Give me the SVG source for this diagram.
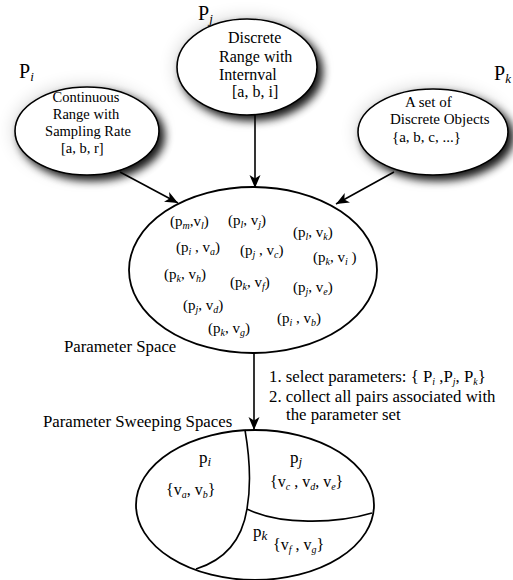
<svg xmlns="http://www.w3.org/2000/svg" width="513" height="580" viewBox="0 0 513 580">
<defs>
  <filter id="shadow" x="-30%" y="-30%" width="160%" height="170%">
    <feGaussianBlur in="SourceAlpha" stdDeviation="4.5" result="b"/>
    <feOffset in="b" dx="5" dy="5" result="o"/>
    <feComponentTransfer in="o" result="s"><feFuncA type="linear" slope="0.9"/></feComponentTransfer>
    <feGaussianBlur in="SourceAlpha" stdDeviation="9" result="g"/>
    <feComponentTransfer in="g" result="g2"><feFuncA type="linear" slope="0.18"/></feComponentTransfer>
    <feMerge><feMergeNode in="g2"/><feMergeNode in="s"/><feMergeNode in="SourceGraphic"/></feMerge>
  </filter>
  <marker id="arr" markerUnits="userSpaceOnUse" markerWidth="14" markerHeight="12" refX="13" refY="5.5" orient="auto">
    <path d="M0,0 L13,5.5 L0,11 L3.5,5.5 z" fill="#000"/>
  </marker>
</defs>
<style>
  text { font-family: "Liberation Serif", "Times New Roman", serif; fill: #000; }
  .node { fill: #fff; stroke: #000; stroke-width: 1.6; }
  .plain { fill: #fff; stroke: #000; stroke-width: 1.8; }
  .big { font-size: 20px; }
  .sub { font-size: 10px; font-style: italic; }
  .bsub { font-size: 13px; font-style: italic; }
  .pair { font-size: 15px; }
  .lbl { font-size: 16.8px; }
  .edge { stroke: #000; stroke-width: 1.6; fill: none; marker-end: url(#arr); }
  .div { stroke: #000; stroke-width: 1.6; fill: none; }
</style>
<rect width="513" height="580" fill="#fff"/>

<g id="connectors">
  <line class="edge" x1="120" y1="172" x2="178" y2="203"/>
  <line class="edge" x1="255" y1="115" x2="255" y2="188"/>
  <line class="edge" x1="394" y1="172" x2="336" y2="204"/>
  <line class="edge" x1="254" y1="353" x2="254" y2="430"/>
</g>

<g id="node-pi">
  <ellipse class="node" filter="url(#shadow)" cx="87" cy="131" rx="72" ry="44"/>
  <text class="big" x="19" y="78">P<tspan class="bsub" dy="3">i</tspan></text>
  <text font-size="14.5" text-anchor="middle" x="86" y="102">Continuous</text>
  <text font-size="14.5" text-anchor="middle" x="86" y="119">Range with</text>
  <text font-size="14.5" text-anchor="middle" x="88" y="136">Sampling Rate</text>
  <text font-size="14.5" x="61" y="153">[a, b, r]</text>
</g>

<g id="node-pj">
  <ellipse class="node" filter="url(#shadow)" cx="247" cy="67" rx="70" ry="48"/>
  <text class="big" x="198" y="20">P<tspan class="bsub" dy="3">j</tspan></text>
  <text font-size="16" x="228" y="43">Discrete</text>
  <text font-size="16" x="219" y="62">Range with</text>
  <text font-size="16" x="219" y="80">Internval</text>
  <text font-size="16" x="232" y="97">[a, b, i]</text>
</g>

<g id="node-pk">
  <ellipse class="node" filter="url(#shadow)" cx="433" cy="132" rx="75" ry="43"/>
  <text class="big" x="494" y="80">P<tspan class="bsub" dy="3">k</tspan></text>
  <text font-size="15" x="405" y="107">A set of</text>
  <text font-size="15" x="390" y="124">Discrete Objects</text>
  <text font-size="15" x="392" y="142">{a, b, c, ...}</text>
</g>

<g id="parameter-space">
  <ellipse class="plain" cx="253" cy="270" rx="124" ry="83"/>
  <text class="pair" x="170" y="226">(p<tspan class="sub" dy="3">m</tspan><tspan dy="-3">,v</tspan><tspan class="sub" dy="3">l</tspan><tspan dy="-3">)</tspan></text>
  <text class="pair" x="228" y="225">(p<tspan class="sub" dy="3">l</tspan><tspan dy="-3">, v</tspan><tspan class="sub" dy="3">j</tspan><tspan dy="-3">)</tspan></text>
  <text class="pair" x="293" y="237">(p<tspan class="sub" dy="3">l</tspan><tspan dy="-3">, v</tspan><tspan class="sub" dy="3">k</tspan><tspan dy="-3">)</tspan></text>
  <text class="pair" x="176" y="252">(p<tspan class="sub" dy="3">i</tspan><tspan dy="-3"> , v</tspan><tspan class="sub" dy="3">a</tspan><tspan dy="-3">)</tspan></text>
  <text class="pair" x="240" y="255">(p<tspan class="sub" dy="3">j</tspan><tspan dy="-3"> , v</tspan><tspan class="sub" dy="3">c</tspan><tspan dy="-3">)</tspan></text>
  <text class="pair" x="313" y="262">(p<tspan class="sub" dy="3">k</tspan><tspan dy="-3">, v</tspan><tspan class="sub" dy="3">i</tspan><tspan dy="-3"> )</tspan></text>
  <text class="pair" x="164" y="279">(p<tspan class="sub" dy="3">k</tspan><tspan dy="-3">, v</tspan><tspan class="sub" dy="3">h</tspan><tspan dy="-3">)</tspan></text>
  <text class="pair" x="230" y="287">(p<tspan class="sub" dy="3">k</tspan><tspan dy="-3">, v</tspan><tspan class="sub" dy="3">f</tspan><tspan dy="-3">)</tspan></text>
  <text class="pair" x="293" y="292">(p<tspan class="sub" dy="3">j</tspan><tspan dy="-3">, v</tspan><tspan class="sub" dy="3">e</tspan><tspan dy="-3">)</tspan></text>
  <text class="pair" x="183" y="310">(p<tspan class="sub" dy="3">j</tspan><tspan dy="-3">, v</tspan><tspan class="sub" dy="3">d</tspan><tspan dy="-3">)</tspan></text>
  <text class="pair" x="277" y="323">(p<tspan class="sub" dy="3">i</tspan><tspan dy="-3"> , v</tspan><tspan class="sub" dy="3">b</tspan><tspan dy="-3">)</tspan></text>
  <text class="pair" x="208" y="333">(p<tspan class="sub" dy="3">k</tspan><tspan dy="-3">, v</tspan><tspan class="sub" dy="3">g</tspan><tspan dy="-3">)</tspan></text>
  <text class="lbl" x="64" y="352">Parameter Space</text>
</g>

<g id="step-label">
  <text class="lbl" x="269" y="382">1. select parameters: { P<tspan class="sub" dy="3">i</tspan><tspan dy="-3"> ,P</tspan><tspan class="sub" dy="3">j</tspan><tspan dy="-3">, P</tspan><tspan class="sub" dy="3">k</tspan><tspan dy="-3">}</tspan></text>
  <text class="lbl" x="269" y="402">2. collect all pairs associated with</text>
  <text class="lbl" x="286" y="420">the parameter set</text>
</g>

<g id="sweeping-spaces">
  <text class="lbl" x="43" y="427">Parameter Sweeping Spaces</text>
  <ellipse class="plain" cx="255" cy="505" rx="119" ry="75"/>
  <path class="div" d="M245,430 C251,465 250,492 247,509 C242,540 225,560 196,569"/>
  <path class="div" d="M247,509 C280,525 335,524 372,513"/>
  <text font-size="17" x="199" y="463">p<tspan class="bsub" dy="3">i</tspan></text>
  <text font-size="16" x="166" y="495">{v<tspan class="sub" dy="3">a</tspan><tspan dy="-3">, v</tspan><tspan class="sub" dy="3">b</tspan><tspan dy="-3">}</tspan></text>
  <text font-size="17" x="290" y="463">p<tspan class="bsub" dy="3">j</tspan></text>
  <text font-size="16" x="270" y="487">{v<tspan class="sub" dy="3">c</tspan><tspan dy="-3"> , v</tspan><tspan class="sub" dy="3">d</tspan><tspan dy="-3">, v</tspan><tspan class="sub" dy="3">e</tspan><tspan dy="-3">}</tspan></text>
  <text font-size="17" x="253" y="537">p<tspan class="bsub" dy="3">k</tspan></text>
  <text font-size="16" x="273" y="550">{v<tspan class="sub" dy="3">f</tspan><tspan dy="-3"> , v</tspan><tspan class="sub" dy="3">g</tspan><tspan dy="-3">}</tspan></text>
</g>
</svg>
